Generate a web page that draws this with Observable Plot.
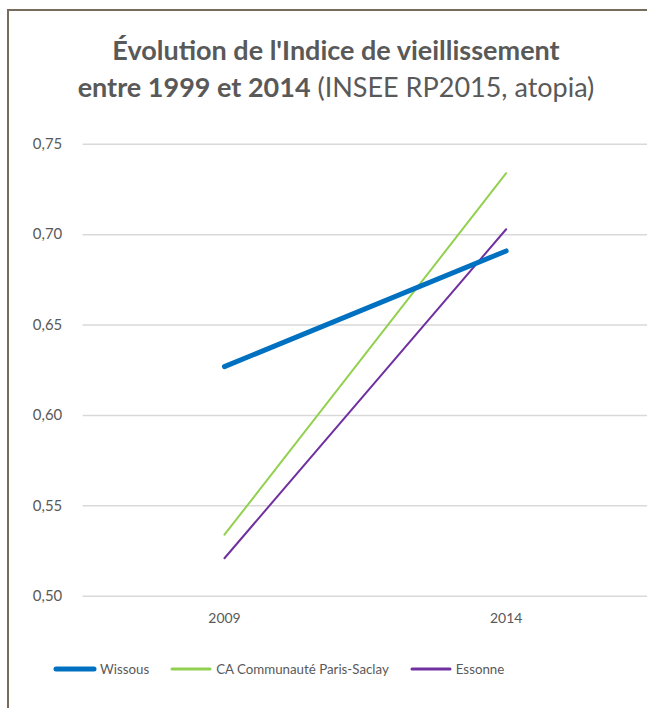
<!DOCTYPE html>
<html>
<head>
<meta charset="utf-8">
<script src="https://cdn.jsdelivr.net/npm/d3@7"></script>
<script src="https://cdn.jsdelivr.net/npm/@observablehq/plot@0.6"></script>
<style>
  html, body { margin: 0; padding: 0; background: #fff; overflow: hidden; }
  #page { position: relative; width: 647px; height: 708px; overflow: hidden; font-family: Lato, "Open Sans", sans-serif; color: #595959; }
  #frame { position: absolute; left: 7px; top: 9px; width: 700px; height: 800px; border-top: 2px solid #776b5d; border-left: 2px solid #776b5d; }
  #title { position: absolute; left: 0; width: 672px; top: 31px; text-align: center; font-size: 27px; line-height: 37px; color: #595959; }
  #title b { font-weight: 700; }
  #chart { position: absolute; left: 0; top: 100px; }
  #legend { position: absolute; top: 661px; left: 53px; display: flex; align-items: center; font-size: 13.3px; color: #595959; white-space: nowrap; }
  #legend .item { display: flex; align-items: center; margin-right: 20px; }
  #legend svg { display: block; margin-right: 3px; }
</style>
</head>
<body>
<div id="page">
  <div id="frame"></div>
  <div id="title"><b>Évolution de l'Indice de vieillissement</b><br><b>entre 1999 et 2014</b> (INSEE RP2015, atopia)</div>
  <div id="chart"></div>
  <div id="legend"></div>
</div>
<script>
const years = ["2009", "2014"];
const series = ["Wissous", "CA Communauté Paris-Saclay", "Essonne"];
const wissous = [0.627, 0.691];
const parisSaclay = [0.534, 0.734];
const essonne = [0.521, 0.703];
const colors = ["#0070C0", "#92D050", "#7030A0"];
const widths = [5, 2, 2];
const yTicks = [0.50, 0.55, 0.60, 0.65, 0.70, 0.75];

const valuesBySeries = [wissous, parisSaclay, essonne];
const data = [];
series.forEach((s, i) => years.forEach((y, j) => data.push({series: s, year: y, value: valuesBySeries[i][j]})));

const lineMarks = series.map((s, i) =>
  Plot.line(data.filter(d => d.series === s), {
    x: "year", y: "value",
    stroke: colors[i], strokeWidth: widths[i], strokeLinecap: "round"
  })
).reverse();

const chart = Plot.plot({
  width: 650,
  height: 530,
  marginLeft: 83,
  marginRight: 0,
  marginTop: 44,
  marginBottom: 32,
  style: { fontFamily: "Lato, 'Open Sans', sans-serif", fontSize: "14px", color: "#595959", background: "transparent", overflow: "visible" },
  x: { type: "point", domain: years, padding: 0.5, label: null },
  y: { domain: [0.5, 0.75], label: null },
  marks: [
    Plot.ruleY(yTicks, { stroke: "#d9d9d9", strokeWidth: 1.5 }),
    Plot.axisY(yTicks, { tickSize: 0, tickPadding: 21, fontSize: 15, tickFormat: d => d.toFixed(2).replace(".", ","), label: null, fill: "#595959" }),
    Plot.axisX(years, { tickSize: 0, tickPadding: 17, fontSize: 14, label: null, fill: "#595959" }),
    ...lineMarks
  ]
});
document.getElementById("chart").appendChild(chart);

const legend = document.getElementById("legend");
series.forEach((s, i) => {
  const item = document.createElement("div");
  item.className = "item";
  const sw = d3.create("svg").attr("width", 44).attr("height", 8);
  sw.append("line").attr("x1", 3).attr("x2", 41).attr("y1", 4).attr("y2", 4)
    .attr("stroke", colors[i]).attr("stroke-width", i === 0 ? 5 : 3).attr("stroke-linecap", "round");
  item.appendChild(sw.node());
  const t = document.createElement("span");
  t.textContent = s;
  item.appendChild(t);
  legend.appendChild(item);
});
</script>
</body>
</html>
